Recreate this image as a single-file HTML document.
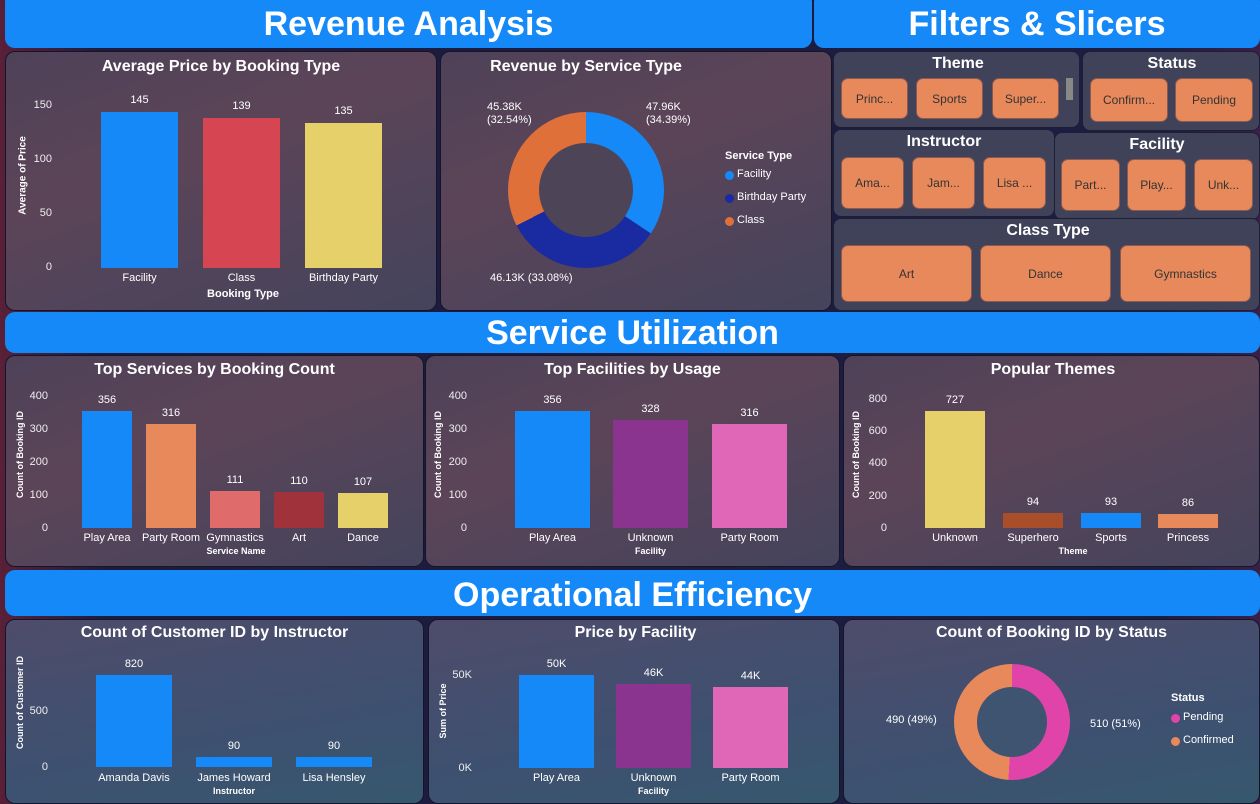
<!DOCTYPE html>
<html><head><meta charset="utf-8"><style>
*{margin:0;padding:0;box-sizing:border-box}
body{width:1260px;height:804px;overflow:hidden;background:linear-gradient(90deg,#5a2038 0%,#1e1c3e 8%,#1b1d42 92%,#3a2048 100%);font-family:"Liberation Sans",sans-serif;color:#fff;position:relative}
.a{position:absolute}
.hdr{position:absolute;background:#1689f8;border-radius:10px;text-align:center;font-weight:bold;color:#fff}
.p{position:absolute;border-radius:10px;border:1.5px solid #15152a;background:linear-gradient(160deg,#4e4258 0%,#5c4458 40%,#44445c 100%)}
.p2{background:linear-gradient(160deg,#5a4458 0%,#4a4a66 60%,#48507a 100%)}
.p3{background:linear-gradient(170deg,#4e4c6a 0%,#3e5070 60%,#36586e 100%)}
.sp{position:absolute;border-radius:8px;border:1.5px solid #1e1e34;background:#3f4258}
.t{position:absolute;font-weight:bold;font-size:16px;text-align:center;white-space:nowrap}
.b{position:absolute}
.l{position:absolute;font-size:11px;white-space:nowrap;text-align:center;color:#fff}
.ax{position:absolute;font-size:11px;text-align:right;width:30px;color:#eee}
.yl{position:absolute;font-size:9px;font-weight:bold;transform:rotate(-90deg);transform-origin:center;white-space:nowrap;text-align:center}
.btn{position:absolute;background:#e8895c;border-radius:7px;border:1px solid #8a5a50;color:#333;font-size:12px;display:flex;align-items:center;justify-content:center}
.st{position:absolute;font-weight:bold;font-size:16px;text-align:center}
</style></head><body>

<div class="hdr" style="left:5px;top:-8px;width:807px;height:56px;font-size:34px;line-height:64px">Revenue Analysis</div>
<div class="hdr" style="left:814px;top:-8px;width:446px;height:56px;font-size:34px;line-height:64px">Filters &amp; Slicers</div>

<!-- Panel 1 -->
<div class="p" style="left:5px;top:51px;width:432px;height:260px"></div>
<div class="t" style="left:5px;top:58px;width:432px">Average Price by Booking Type</div>
<div class="yl" style="left:-22px;top:170px;width:90px;font-size:10px">Average of Price</div>
<div class="ax" style="left:22px;top:99px">150</div>
<div class="ax" style="left:22px;top:153px">100</div>
<div class="ax" style="left:22px;top:207px">50</div>
<div class="ax" style="left:22px;top:261px">0</div>
<div class="b" style="left:101px;top:112px;width:77px;height:156px;background:#1689f8"></div>
<div class="b" style="left:203px;top:118px;width:77px;height:150px;background:#d64552"></div>
<div class="b" style="left:305px;top:123px;width:77px;height:145px;background:#e6d06a"></div>
<div class="l" style="left:101px;top:94px;width:77px">145</div>
<div class="l" style="left:203px;top:100px;width:77px">139</div>
<div class="l" style="left:305px;top:105px;width:77px">135</div>
<div class="l" style="left:101px;top:272px;width:77px">Facility</div>
<div class="l" style="left:203px;top:272px;width:77px">Class</div>
<div class="l" style="left:305px;top:272px;width:77px">Birthday Party</div>
<div class="l" style="left:183px;top:288px;width:120px;font-weight:bold">Booking Type</div>

<!-- Panel 2 -->
<div class="p" style="left:440px;top:51px;width:392px;height:260px"></div>
<div class="t" style="left:440px;top:58px;width:292px">Revenue by Service Type</div>
<div class="a" style="left:508px;top:112px;width:156px;height:156px;border-radius:50%;background:conic-gradient(#1689f8 0 34.39%,#1a2aa0 34.39% 67.47%,#e0703a 67.47% 100%)"></div>
<div class="a" style="left:539px;top:143px;width:94px;height:94px;border-radius:50%;background:#4e4458"></div>
<div class="l" style="left:646px;top:101px;text-align:left;line-height:13px">47.96K<br>(34.39%)</div>
<div class="l" style="left:487px;top:101px;text-align:left;line-height:13px">45.38K<br>(32.54%)</div>
<div class="l" style="left:490px;top:272px">46.13K (33.08%)</div>
<div class="l" style="left:725px;top:150px;font-weight:bold">Service Type</div>
<div class="a" style="left:725px;top:171px;width:9px;height:9px;border-radius:50%;background:#1689f8"></div>
<div class="l" style="left:737px;top:168px">Facility</div>
<div class="a" style="left:725px;top:194px;width:9px;height:9px;border-radius:50%;background:#1a2aa0"></div>
<div class="l" style="left:737px;top:191px">Birthday Party</div>
<div class="a" style="left:725px;top:217px;width:9px;height:9px;border-radius:50%;background:#e0703a"></div>
<div class="l" style="left:737px;top:214px">Class</div>

<!-- Slicers -->
<div class="sp" style="left:833px;top:51px;width:247px;height:77px"></div>
<div class="st" style="left:833px;top:55px;width:250px">Theme</div>
<div class="btn" style="left:841px;top:78px;width:67px;height:41px">Princ...</div>
<div class="btn" style="left:916px;top:78px;width:67px;height:41px">Sports</div>
<div class="btn" style="left:992px;top:78px;width:67px;height:41px">Super...</div>
<div class="a" style="left:1066px;top:78px;width:7px;height:22px;background:#888"></div>
<div class="sp" style="left:1082px;top:51px;width:178px;height:80px"></div>
<div class="st" style="left:1082px;top:55px;width:180px">Status</div>
<div class="btn" style="left:1090px;top:78px;width:78px;height:44px">Confirm...</div>
<div class="btn" style="left:1175px;top:78px;width:78px;height:44px">Pending</div>
<div class="sp" style="left:833px;top:129px;width:222px;height:88px"></div>
<div class="st" style="left:833px;top:133px;width:222px">Instructor</div>
<div class="btn" style="left:841px;top:157px;width:63px;height:52px">Ama...</div>
<div class="btn" style="left:912px;top:157px;width:63px;height:52px">Jam...</div>
<div class="btn" style="left:983px;top:157px;width:63px;height:52px">Lisa ...</div>
<div class="sp" style="left:1054px;top:132px;width:206px;height:88px"></div>
<div class="st" style="left:1054px;top:136px;width:206px">Facility</div>
<div class="btn" style="left:1061px;top:159px;width:59px;height:52px">Part...</div>
<div class="btn" style="left:1127px;top:159px;width:59px;height:52px">Play...</div>
<div class="btn" style="left:1194px;top:159px;width:59px;height:52px">Unk...</div>
<div class="sp" style="left:833px;top:218px;width:427px;height:93px"></div>
<div class="st" style="left:833px;top:222px;width:430px">Class Type</div>
<div class="btn" style="left:841px;top:245px;width:131px;height:57px">Art</div>
<div class="btn" style="left:980px;top:245px;width:131px;height:57px">Dance</div>
<div class="btn" style="left:1120px;top:245px;width:131px;height:57px">Gymnastics</div>

<div class="hdr" style="left:5px;top:312px;width:1255px;height:41px;font-size:34px;line-height:43px">Service Utilization</div>

<!-- Row 2 -->
<div class="p" style="left:5px;top:355px;width:419px;height:212px"></div>
<div class="t" style="left:5px;top:361px;width:419px">Top Services by Booking Count</div>
<div class="yl" style="left:-20px;top:453px;width:80px">Count of Booking ID</div>
<div class="ax" style="left:18px;top:390px">400</div><div class="ax" style="left:18px;top:423px">300</div><div class="ax" style="left:18px;top:456px">200</div><div class="ax" style="left:18px;top:489px">100</div><div class="ax" style="left:18px;top:522px">0</div>
<div class="b" style="left:82px;top:411px;width:50px;height:117px;background:#1689f8"></div>
<div class="b" style="left:146px;top:424px;width:50px;height:104px;background:#e8895c"></div>
<div class="b" style="left:210px;top:491px;width:50px;height:37px;background:#e06b6b"></div>
<div class="b" style="left:274px;top:492px;width:50px;height:36px;background:#a0323c"></div>
<div class="b" style="left:338px;top:493px;width:50px;height:35px;background:#e6d06a"></div>
<div class="l" style="left:82px;top:394px;width:50px">356</div><div class="l" style="left:146px;top:407px;width:50px">316</div><div class="l" style="left:210px;top:474px;width:50px">111</div><div class="l" style="left:274px;top:475px;width:50px">110</div><div class="l" style="left:338px;top:476px;width:50px">107</div>
<div class="l" style="left:72px;top:532px;width:70px">Play Area</div><div class="l" style="left:136px;top:532px;width:70px">Party Room</div><div class="l" style="left:200px;top:532px;width:70px">Gymnastics</div><div class="l" style="left:264px;top:532px;width:70px">Art</div><div class="l" style="left:328px;top:532px;width:70px">Dance</div>
<div class="l" style="left:186px;top:546px;width:100px;font-size:9px;font-weight:bold">Service Name</div>

<div class="p" style="left:425px;top:355px;width:415px;height:212px"></div>
<div class="t" style="left:425px;top:361px;width:415px">Top Facilities by Usage</div>
<div class="yl" style="left:398px;top:453px;width:80px">Count of Booking ID</div>
<div class="ax" style="left:437px;top:390px">400</div><div class="ax" style="left:437px;top:423px">300</div><div class="ax" style="left:437px;top:456px">200</div><div class="ax" style="left:437px;top:489px">100</div><div class="ax" style="left:437px;top:522px">0</div>
<div class="b" style="left:515px;top:411px;width:75px;height:117px;background:#1689f8"></div>
<div class="b" style="left:613px;top:420px;width:75px;height:108px;background:#8a3490"></div>
<div class="b" style="left:712px;top:424px;width:75px;height:104px;background:#e066b8"></div>
<div class="l" style="left:515px;top:394px;width:75px">356</div><div class="l" style="left:613px;top:403px;width:75px">328</div><div class="l" style="left:712px;top:407px;width:75px">316</div>
<div class="l" style="left:515px;top:532px;width:75px">Play Area</div><div class="l" style="left:613px;top:532px;width:75px">Unknown</div><div class="l" style="left:712px;top:532px;width:75px">Party Room</div>
<div class="l" style="left:613px;top:546px;width:75px;font-size:9px;font-weight:bold">Facility</div>

<div class="p" style="left:843px;top:355px;width:417px;height:212px"></div>
<div class="t" style="left:843px;top:361px;width:420px">Popular Themes</div>
<div class="yl" style="left:816px;top:453px;width:80px">Count of Booking ID</div>
<div class="ax" style="left:857px;top:393px">800</div><div class="ax" style="left:857px;top:425px">600</div><div class="ax" style="left:857px;top:457px">400</div><div class="ax" style="left:857px;top:490px">200</div><div class="ax" style="left:857px;top:522px">0</div>
<div class="b" style="left:925px;top:411px;width:60px;height:117px;background:#e6d06a"></div>
<div class="b" style="left:1003px;top:513px;width:60px;height:15px;background:#a84e2a"></div>
<div class="b" style="left:1081px;top:513px;width:60px;height:15px;background:#1689f8"></div>
<div class="b" style="left:1158px;top:514px;width:60px;height:14px;background:#e8895c"></div>
<div class="l" style="left:925px;top:394px;width:60px">727</div><div class="l" style="left:1003px;top:496px;width:60px">94</div><div class="l" style="left:1081px;top:496px;width:60px">93</div><div class="l" style="left:1158px;top:497px;width:60px">86</div>
<div class="l" style="left:915px;top:532px;width:80px">Unknown</div><div class="l" style="left:993px;top:532px;width:80px">Superhero</div><div class="l" style="left:1071px;top:532px;width:80px">Sports</div><div class="l" style="left:1148px;top:532px;width:80px">Princess</div>
<div class="l" style="left:1033px;top:546px;width:80px;font-size:9px;font-weight:bold">Theme</div>

<div class="hdr" style="left:5px;top:570px;width:1255px;height:46px;font-size:34px;line-height:50px">Operational Efficiency</div>

<!-- Row 3 -->
<div class="p p3" style="left:5px;top:619px;width:419px;height:185px"></div>
<div class="t" style="left:5px;top:624px;width:419px">Count of Customer ID by Instructor</div>
<div class="yl" style="left:-18px;top:706px;width:76px">Count of Customer ID</div>
<div class="ax" style="left:18px;top:705px">500</div><div class="ax" style="left:18px;top:761px">0</div>
<div class="b" style="left:96px;top:675px;width:76px;height:92px;background:#1689f8"></div>
<div class="b" style="left:196px;top:757px;width:76px;height:10px;background:#1689f8"></div>
<div class="b" style="left:296px;top:757px;width:76px;height:10px;background:#1689f8"></div>
<div class="l" style="left:96px;top:658px;width:76px">820</div><div class="l" style="left:196px;top:740px;width:76px">90</div><div class="l" style="left:296px;top:740px;width:76px">90</div>
<div class="l" style="left:91px;top:772px;width:86px">Amanda Davis</div><div class="l" style="left:191px;top:772px;width:86px">James Howard</div><div class="l" style="left:291px;top:772px;width:86px">Lisa Hensley</div>
<div class="l" style="left:196px;top:786px;width:76px;font-size:9px;font-weight:bold">Instructor</div>

<div class="p p3" style="left:428px;top:619px;width:412px;height:185px"></div>
<div class="t" style="left:428px;top:624px;width:415px">Price by Facility</div>
<div class="yl" style="left:405px;top:706px;width:76px">Sum of Price</div>
<div class="ax" style="left:442px;top:669px">50K</div><div class="ax" style="left:442px;top:762px">0K</div>
<div class="b" style="left:519px;top:675px;width:75px;height:93px;background:#1689f8"></div>
<div class="b" style="left:616px;top:684px;width:75px;height:84px;background:#8a3490"></div>
<div class="b" style="left:713px;top:687px;width:75px;height:81px;background:#e066b8"></div>
<div class="l" style="left:519px;top:658px;width:75px">50K</div><div class="l" style="left:616px;top:667px;width:75px">46K</div><div class="l" style="left:713px;top:670px;width:75px">44K</div>
<div class="l" style="left:519px;top:772px;width:75px">Play Area</div><div class="l" style="left:616px;top:772px;width:75px">Unknown</div><div class="l" style="left:713px;top:772px;width:75px">Party Room</div>
<div class="l" style="left:616px;top:786px;width:75px;font-size:9px;font-weight:bold">Facility</div>

<div class="p p3" style="left:843px;top:619px;width:417px;height:185px"></div>
<div class="t" style="left:843px;top:624px;width:417px">Count of Booking ID by Status</div>
<div class="a" style="left:954px;top:664px;width:116px;height:116px;border-radius:50%;background:conic-gradient(#e044a8 0 51%,#e8895c 51% 100%)"></div>
<div class="a" style="left:977px;top:687px;width:70px;height:70px;border-radius:50%;background:#3f5470"></div>
<div class="l" style="left:886px;top:714px">490 (49%)</div>
<div class="l" style="left:1090px;top:718px">510 (51%)</div>
<div class="l" style="left:1171px;top:692px;font-weight:bold">Status</div>
<div class="a" style="left:1171px;top:714px;width:9px;height:9px;border-radius:50%;background:#e044a8"></div>
<div class="l" style="left:1183px;top:711px">Pending</div>
<div class="a" style="left:1171px;top:737px;width:9px;height:9px;border-radius:50%;background:#e8895c"></div>
<div class="l" style="left:1183px;top:734px">Confirmed</div>
</body></html>
